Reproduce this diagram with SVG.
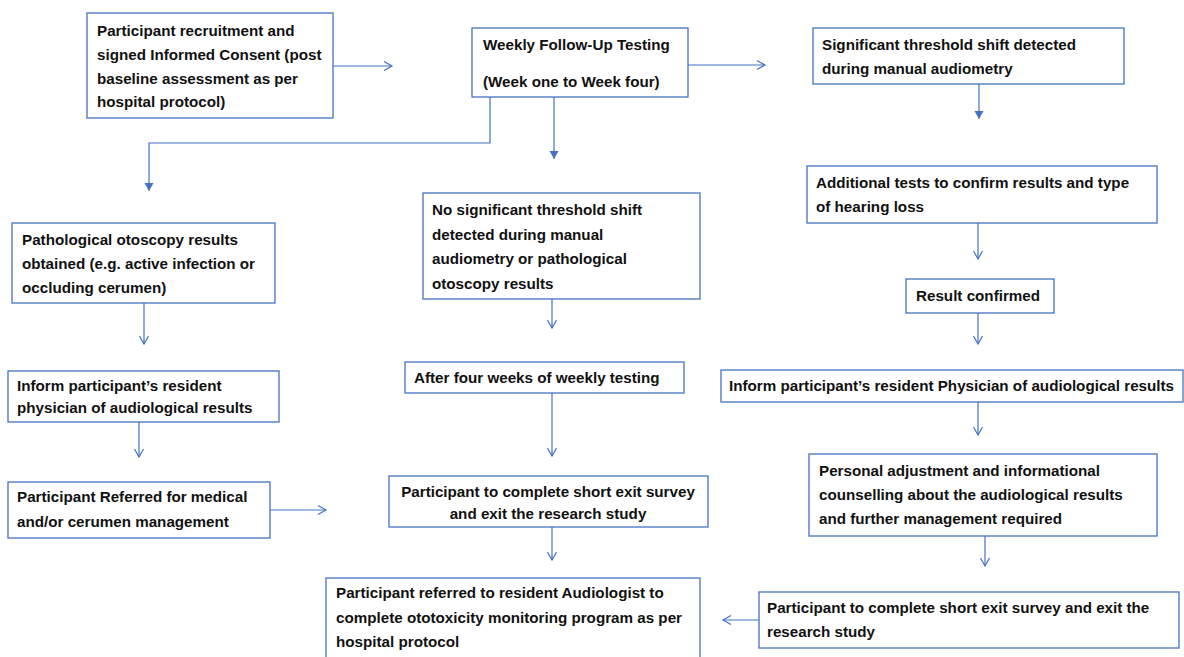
<svg xmlns="http://www.w3.org/2000/svg" width="1184" height="657" viewBox="0 0 1184 657">
<style>
.box{fill:#fff;stroke:#4472C4;stroke-width:1.3}
.t{font-family:"Liberation Sans",Arial,sans-serif;font-weight:bold;font-size:15.2px;fill:#111}
.c{text-anchor:middle}
.ln{fill:none;stroke:#4472C4;stroke-width:1.2}
</style>
<defs>
<marker id="open" markerWidth="12" markerHeight="12" refX="10" refY="6" orient="auto" markerUnits="userSpaceOnUse">
<path d="M2,1.5 L10,6 L2,10.5" fill="none" stroke="#4472C4" stroke-width="1.2"/>
</marker>
<marker id="fill" markerWidth="10" markerHeight="10" refX="8" refY="5" orient="auto" markerUnits="userSpaceOnUse">
<path d="M0,0.5 L8,5 L0,9.5 Z" fill="#4472C4"/>
</marker>
</defs>
<rect width="1184" height="657" fill="#fff"/>
<g id="connectors">
<line class="ln" x1="333" y1="66" x2="392" y2="66" marker-end="url(#open)"/>
<line class="ln" x1="688" y1="65" x2="765" y2="65" marker-end="url(#open)"/>
<line class="ln" x1="979" y1="84" x2="979" y2="119" marker-end="url(#fill)"/>
<polyline class="ln" points="490,97 490,143 149,143 149,191" marker-end="url(#fill)"/>
<line class="ln" x1="554" y1="97" x2="554" y2="159" marker-end="url(#fill)"/>
<line class="ln" x1="144" y1="303" x2="144" y2="344" marker-end="url(#open)"/>
<line class="ln" x1="552" y1="299" x2="552" y2="328" marker-end="url(#open)"/>
<line class="ln" x1="978" y1="223" x2="978" y2="259" marker-end="url(#open)"/>
<line class="ln" x1="978" y1="313" x2="978" y2="344" marker-end="url(#open)"/>
<line class="ln" x1="139" y1="422" x2="139" y2="457" marker-end="url(#open)"/>
<line class="ln" x1="552" y1="393" x2="552" y2="456" marker-end="url(#open)"/>
<line class="ln" x1="978" y1="402" x2="978" y2="435" marker-end="url(#open)"/>
<line class="ln" x1="270" y1="510" x2="326" y2="510" marker-end="url(#open)"/>
<line class="ln" x1="552" y1="527" x2="552" y2="560" marker-end="url(#open)"/>
<line class="ln" x1="985" y1="536" x2="985" y2="566" marker-end="url(#open)"/>
<line class="ln" x1="759" y1="620" x2="723" y2="620" marker-end="url(#open)"/>
</g>
<g id="n1">
<rect class="box" x="87" y="13" width="246" height="105"/>
<text class="t" x="97" y="36">Participant recruitment and</text>
<text class="t" x="97" y="60">signed Informed Consent (post</text>
<text class="t" x="97" y="84">baseline assessment as per</text>
<text class="t" x="97" y="107">hospital protocol)</text>
</g>
<g id="n2">
<rect class="box" x="472" y="28" width="216" height="69"/>
<text class="t" x="483" y="50">Weekly Follow-Up Testing</text>
<text class="t" x="483" y="87">(Week one to Week four)</text>
</g>
<g id="n3">
<rect class="box" x="813" y="28" width="311" height="56"/>
<text class="t" x="822" y="50">Significant threshold shift detected</text>
<text class="t" x="822" y="74">during manual  audiometry</text>
</g>
<g id="n4">
<rect class="box" x="12" y="223" width="263" height="80"/>
<text class="t" x="22" y="245">Pathological otoscopy results</text>
<text class="t" x="22" y="269">obtained (e.g. active infection or</text>
<text class="t" x="22" y="293">occluding cerumen)</text>
</g>
<g id="n5">
<rect class="box" x="423" y="193" width="277" height="106"/>
<text class="t" x="432" y="215">No significant threshold shift</text>
<text class="t" x="432" y="240">detected during manual</text>
<text class="t" x="432" y="264">audiometry or pathological</text>
<text class="t" x="432" y="289">otoscopy results</text>
</g>
<g id="n6">
<rect class="box" x="807" y="166" width="350" height="57"/>
<text class="t" x="816" y="188">Additional tests to confirm results and type</text>
<text class="t" x="816" y="212">of hearing loss</text>
</g>
<g id="n7">
<rect class="box" x="906" y="279" width="148" height="34"/>
<text class="t" x="916" y="301">Result confirmed</text>
</g>
<g id="n8">
<rect class="box" x="405" y="362" width="279" height="31"/>
<text class="t" x="414" y="383">After four weeks of weekly testing</text>
</g>
<g id="n9">
<rect class="box" x="721" y="370" width="462" height="32"/>
<text class="t" x="729" y="391">Inform participant’s resident Physician of audiological results</text>
</g>
<g id="n10">
<rect class="box" x="8" y="371" width="271" height="51"/>
<text class="t" x="17" y="391">Inform participant’s resident</text>
<text class="t" x="17" y="413">physician of audiological results</text>
</g>
<g id="n11">
<rect class="box" x="8" y="482" width="262" height="56"/>
<text class="t" x="17" y="502">Participant Referred for medical</text>
<text class="t" x="17" y="527">and/or cerumen management</text>
</g>
<g id="n12">
<rect class="box" x="389" y="476" width="319" height="51"/>
<text class="t c" x="548" y="497">Participant to complete short exit survey</text>
<text class="t c" x="548" y="519">and exit the research study</text>
</g>
<g id="n13">
<rect class="box" x="809" y="454" width="348" height="82"/>
<text class="t" x="819" y="476">Personal adjustment and informational</text>
<text class="t" x="819" y="500">counselling about the audiological results</text>
<text class="t" x="819" y="524">and further management required</text>
</g>
<g id="n14">
<rect class="box" x="326" y="578" width="374" height="85"/>
<text class="t" x="336" y="598">Participant referred to resident Audiologist to</text>
<text class="t" x="336" y="623">complete ototoxicity monitoring program as per</text>
<text class="t" x="336" y="647">hospital protocol</text>
</g>
<g id="n15">
<rect class="box" x="759" y="592" width="420" height="56"/>
<text class="t" x="767" y="613">Participant to complete short exit survey and exit the</text>
<text class="t" x="767" y="637">research study</text>
</g>
</svg>
